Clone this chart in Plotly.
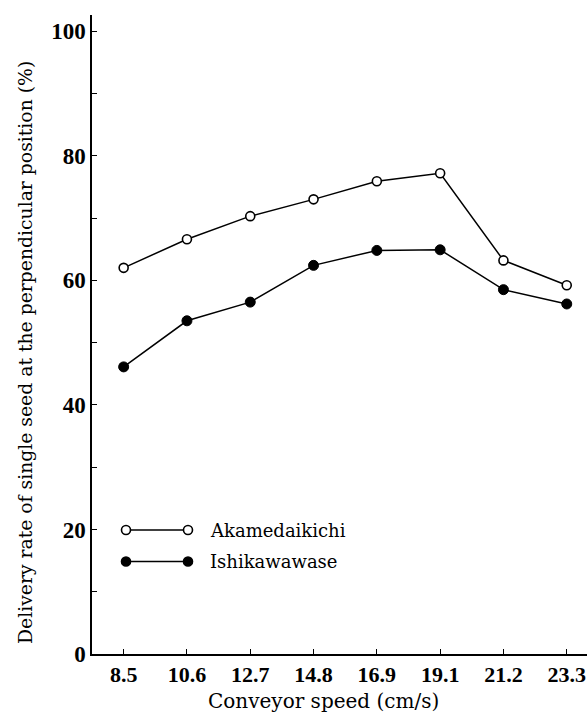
import plotly.graph_objects as go

speeds = ["8.5", "10.6", "12.7", "14.8", "16.9", "19.1", "21.2", "23.3"]
akamedaikichi = [62.0, 66.6, 70.3, 73.0, 75.9, 77.2, 63.2, 59.2]
ishikawawase = [46.1, 53.5, 56.5, 62.4, 64.8, 64.9, 58.5, 56.2]
y_tick_vals = [0, 10, 20, 30, 40, 50, 60, 70, 80, 90, 100]
y_tick_text = ["0", "", "20", "", "40", "", "60", "", "80", "", "100"]

FONT = "Liberation Serif"
TFONT = "DejaVu Serif"

fig = go.Figure()
fig.add_trace(go.Scatter(
    x=speeds, y=akamedaikichi, mode="lines+markers", name="Akamedaikichi",
    line=dict(color="black", width=1.5),
    marker=dict(symbol="circle", size=9, color="white", line=dict(color="black", width=1.6)),
    showlegend=False,
))
fig.add_trace(go.Scatter(
    x=speeds, y=ishikawawase, mode="lines+markers", name="Ishikawawase",
    line=dict(color="black", width=1.5),
    marker=dict(symbol="circle", size=10, color="black", line=dict(color="black", width=1)),
    showlegend=False,
))

# legend drawn by hand (paper coordinates)
L, R, T, B = 92, 587, 15, 654
def px(x):
    return (x - L) / (R - L)
def py(y):
    return (B - y) / (B - T)

shapes = []
annotations = []
legend_items = [("Akamedaikichi", 530, "white"), ("Ishikawawase", 561.5, "black")]
for label, ypix, fill in legend_items:
    shapes.append(dict(type="line", xref="paper", yref="paper",
                       x0=px(126), x1=px(188), y0=py(ypix), y1=py(ypix),
                       line=dict(color="black", width=1.5)))
    for xc in (126, 188):
        shapes.append(dict(type="circle", xref="paper", yref="paper",
                           xsizemode="pixel", ysizemode="pixel",
                           xanchor=px(xc), yanchor=py(ypix),
                           x0=-4.5, x1=4.5, y0=-4.5, y1=4.5,
                           fillcolor=fill, line=dict(color="black", width=1.6)))
    annotations.append(dict(xref="paper", yref="paper", x=px(208), y=py(ypix),
                            text=label, showarrow=False, xanchor="left", yanchor="middle",
                            font=dict(family=TFONT, size=18, color="black")))

# axis titles
annotations.append(dict(xref="paper", yref="paper", x=px(323), y=py(701),
                        text="Conveyor speed (cm/s)", showarrow=False,
                        xanchor="center", yanchor="middle",
                        font=dict(family=TFONT, size=20, color="black")))
annotations.append(dict(xref="paper", yref="paper", x=px(25), y=py(353),
                        text="Delivery rate of single seed at the perpendicular position (%)",
                        showarrow=False, textangle=-90,
                        xanchor="center", yanchor="middle",
                        font=dict(family=TFONT, size=18.8, color="black")))

fig.update_layout(
    width=587, height=720,
    margin=dict(l=L, r=587 - R, t=T, b=720 - B),
    paper_bgcolor="white", plot_bgcolor="white",
    font=dict(family=FONT, color="black"),
    shapes=shapes, annotations=annotations,
    showlegend=False,
)
fig.update_xaxes(
    type="category", range=[-0.5, 7.32],
    showline=True, linecolor="black", linewidth=1.5,
    ticks="inside", ticklen=5, tickwidth=1.3, tickcolor="black",
    showgrid=False, zeroline=False,
    tickfont=dict(family=FONT, size=22, color="black", weight="bold"),
)
fig.update_yaxes(
    range=[0, 102.6],
    tickvals=y_tick_vals, ticktext=y_tick_text,
    showline=True, linecolor="black", linewidth=1.5,
    ticks="inside", ticklen=5, tickwidth=1.3, tickcolor="black",
    showgrid=False, zeroline=False,
    tickfont=dict(family=FONT, size=23, color="black", weight="bold"),
)

fig.write_html(
    "out.html",
    config={"displayModeBar": False},
    post_script="document.body.style.margin='0';document.body.style.overflow='hidden';",
)
